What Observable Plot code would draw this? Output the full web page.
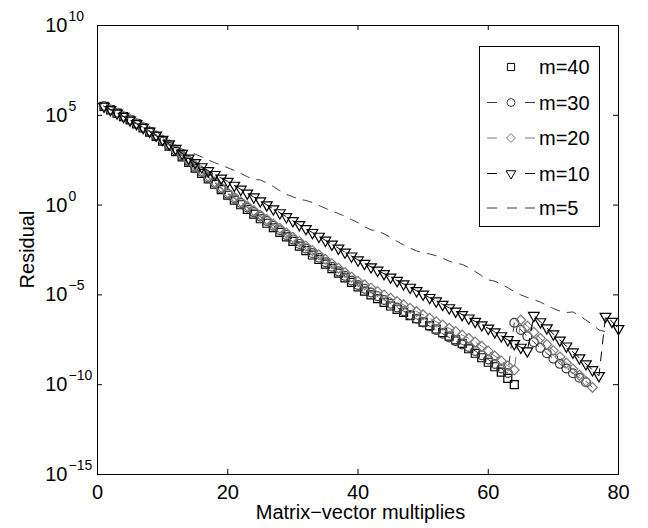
<!DOCTYPE html>
<html><head><meta charset="utf-8">
<script src="https://cdn.jsdelivr.net/npm/d3@7"></script>
<script src="https://cdn.jsdelivr.net/npm/@observablehq/plot@0.6"></script>
<style>body{margin:0;background:#fff}</style>
</head><body><div id="chart"></div>
<script>
// ---- data (log10 of residual, iteration index starts at 1) ----
const xTicks = [0, 20, 40, 60, 80];
const yTicks = [1e-15, 1e-10, 1e-5, 1e0, 1e5, 1e10];
const yTickExponents = ["−15", "−10", "−5", "0", "5", "10"];
const seriesNames = ["m=40", "m=30", "m=20", "m=10", "m=5"];

const m40 = [5.50,5.30,5.12,4.93,4.74,4.52,4.30,4.06,3.82,3.56,3.28,2.98,2.68,2.38,2.06,1.76,1.46,1.16,0.86,0.55,
  0.28,0.02,-0.24,-0.50,-0.76,-1.01,-1.26,-1.52,-1.77,-2.02,-2.28,-2.53,-2.78,-3.03,-3.29,-3.54,-3.79,-4.05,-4.30,-4.55,
  -4.79,-5.00,-5.21,-5.42,-5.62,-5.81,-5.98,-6.15,-6.33,-6.52,-6.71,-6.90,-7.10,-7.30,-7.50,-7.70,-8.00,-8.25,-8.50,-8.75,
  -9.00,-9.30,-9.65,-10.00];
const m30 = [5.50,5.31,5.12,4.94,4.75,4.54,4.32,4.09,3.85,3.60,3.33,3.04,2.75,2.45,2.14,1.84,1.54,1.24,0.93,0.63,
  0.38,0.12,-0.13,-0.39,-0.64,-0.89,-1.15,-1.40,-1.66,-1.91,-2.16,-2.42,-2.67,-2.93,-3.18,-3.43,-3.69,-3.94,-4.20,-4.45,
  -4.66,-4.87,-5.07,-5.28,-5.49,-5.70,-5.91,-6.12,-6.33,-6.53,-6.74,-6.95,-7.16,-7.37,-7.58,-7.76,-7.90,-8.12,-8.36,-8.60,
  -8.85,-9.10,-9.35,-6.55,-6.95,-7.30,-7.63,-7.95,-8.25,-8.55,-8.84,-9.10,-9.36,-9.61,-9.86];
const m20 = [5.50,5.31,5.13,4.95,4.76,4.55,4.34,4.11,3.87,3.62,3.36,3.08,2.79,2.50,2.20,1.90,1.60,1.29,0.98,0.68,
  0.43,0.19,-0.06,-0.31,-0.55,-0.80,-1.05,-1.29,-1.54,-1.79,-2.03,-2.28,-2.53,-2.77,-3.02,-3.27,-3.51,-3.76,-4.01,-4.25,
  -4.44,-4.62,-4.81,-5.00,-5.18,-5.37,-5.55,-5.74,-5.93,-6.11,-6.30,-6.49,-6.67,-6.86,-7.04,-7.23,-7.42,-7.62,-7.86,-8.12,
  -8.40,-8.68,-8.95,-9.18,-6.40,-6.74,-7.08,-7.42,-7.76,-8.10,-8.45,-8.79,-9.13,-9.47,-9.81,-10.15];
const m10 = [5.50,5.31,5.12,4.93,4.73,4.53,4.32,4.11,3.89,3.66,3.41,3.15,2.88,2.61,2.36,2.13,1.91,1.70,1.50,1.32,
  1.10,0.88,0.66,0.45,0.23,0.01,-0.21,-0.43,-0.65,-0.87,-1.09,-1.31,-1.53,-1.74,-1.96,-2.18,-2.40,-2.62,-2.84,-3.06,
  -3.25,-3.44,-3.63,-3.82,-4.01,-4.20,-4.39,-4.58,-4.77,-4.96,-5.15,-5.34,-5.53,-5.72,-5.91,-6.10,-6.29,-6.48,-6.67,-6.86,
  -7.06,-7.28,-7.50,-7.72,-7.92,-8.12,-6.15,-6.50,-6.84,-7.18,-7.52,-7.85,-8.18,-8.51,-8.84,-9.17,-9.50,-6.20,-6.48,-6.88];
const m5 = [5.50,5.31,5.12,4.93,4.74,4.54,4.34,4.13,3.92,3.71,3.50,3.29,3.12,3.00,2.84,2.68,2.52,2.36,2.22,2.08,
  1.93,1.76,1.58,1.44,1.40,1.24,1.04,0.80,0.60,0.46,0.32,0.26,0.14,-0.02,-0.18,-0.33,-0.47,-0.62,-0.80,-0.98,
  -1.20,-1.38,-1.44,-1.60,-1.80,-2.02,-2.22,-2.40,-2.55,-2.66,-2.72,-2.82,-2.96,-3.12,-3.24,-3.30,-3.48,-3.70,-3.94,-4.16,
  -4.24,-4.40,-4.60,-4.82,-5.00,-5.14,-5.26,-5.40,-5.58,-5.76,-5.90,-5.98,-5.95,-6.15,-6.40,-6.65,-6.95,-7.05];

// ---- styles ----
const FONT = "Liberation Sans, Arial, Helvetica, sans-serif";
const DASH = "9,8";
const styles = [
  {values: m40, color: "#000", symbol: "square",   r: 4.5,  rotate: 0,   line: false, marker: true},
  {values: m30, color: "#3a3a3a", symbol: "circle", r: 4.4, rotate: 0,   line: true,  marker: true},
  {values: m20, color: "#7a7a7a", symbol: "diamond2", r: 4.4, rotate: 0, line: true,  marker: true},
  {values: m10, color: "#000", symbol: "triangle2", r: 5.1, rotate: 180, line: true,  marker: true},
  {values: m5,  color: "#3a3a3a", symbol: null, r: 0, rotate: 0, line: true, marker: false}
];

const W = 648, H = 528, ML = 97, MR = 30, MT = 25, MB = 54;
const PW = W - ML - MR, PH = H - MT - MB;

const marks = [];
styles.forEach((s, k) => {
  const rows = s.values.map((v, i) => ({x: i + 1, y: Math.pow(10, v), series: seriesNames[k]}));
  if (s.line) marks.push(Plot.line(rows, {x: "x", y: "y", stroke: s.color, strokeWidth: 1, strokeDasharray: DASH}));
  if (s.marker) marks.push(Plot.dot(rows, {x: "x", y: "y", symbol: s.symbol, r: s.r, rotate: s.rotate, fill: "none", stroke: s.color, strokeWidth: 1.2}));
});

const plot = Plot.plot({
  width: W, height: H,
  marginLeft: ML, marginRight: MR, marginTop: MT, marginBottom: MB,
  style: {fontFamily: FONT, background: "#fff", color: "#000"},
  x: {domain: [0, 80], axis: null},
  y: {type: "log", domain: [1e-15, 1e10], axis: null},
  marks: [
    ...marks,
    Plot.frame({stroke: "#000", strokeWidth: 1}),
    Plot.ruleX(xTicks, {stroke: "#000", insetTop: PH - 5}),
    Plot.ruleX(xTicks, {stroke: "#000", insetBottom: PH - 5}),
    Plot.ruleY(yTicks, {stroke: "#000", insetRight: PW - 5}),
    Plot.ruleY(yTicks, {stroke: "#000", insetLeft: PW - 5}),
    Plot.axisX(xTicks, {anchor: "bottom", tickSize: 0, tickPadding: 10, fontSize: 20, tickFormat: d => String(d), label: null}),
    Plot.text(yTicks, {y: d => d, text: () => "10", frameAnchor: "left", textAnchor: "end", dx: -30, fontSize: 20}),
    Plot.text(yTicks, {y: d => d, text: (d, i) => yTickExponents[i], frameAnchor: "left", textAnchor: "start", dx: -29, dy: -9, fontSize: 14})
  ]
});
document.getElementById("chart").appendChild(plot);

// ---- axis titles and legend ----
const svg = d3.select(plot);
svg.append("text").attr("x", ML + PW / 2 + 3).attr("y", 519).attr("text-anchor", "middle")
  .attr("font-family", FONT).attr("font-size", 20).attr("fill", "#000").text("Matrix−vector multiplies");
svg.append("text").attr("transform", `translate(34,${MT + PH / 2}) rotate(-90)`).attr("text-anchor", "middle")
  .attr("font-family", FONT).attr("font-size", 20).attr("fill", "#000").text("Residual");

const lg = svg.append("g");
lg.append("rect").attr("x", 479.5).attr("y", 46.5).attr("width", 120).attr("height", 180)
  .attr("fill", "#fff").attr("stroke", "#000").attr("stroke-width", 1);
const rowsY = [67, 102.5, 138, 173.5, 208];
const symMap = {square: d3.symbolSquare, circle: d3.symbolCircle, diamond2: d3.symbolDiamond2, triangle2: d3.symbolTriangle2};
styles.forEach((s, k) => {
  const y = rowsY[k];
  if (s.line) {
    const segs = s.marker ? [[487, 497], [525, 535]] : [[487, 497], [507, 517], [525, 535]];
    segs.forEach(([a, b]) => lg.append("line").attr("x1", a).attr("x2", b).attr("y1", y).attr("y2", y)
      .attr("stroke", s.color).attr("stroke-width", 1));
  }
  if (s.marker) {
    const rr = s.r * 0.9;
    lg.append("path").attr("d", d3.symbol(symMap[s.symbol], Math.PI * rr * rr)())
      .attr("transform", `translate(511,${y}) rotate(${s.rotate})`)
      .attr("fill", "none").attr("stroke", s.color).attr("stroke-width", 1);
  }
  lg.append("text").attr("x", 539).attr("y", y + 7).attr("text-anchor", "start")
    .attr("font-family", FONT).attr("font-size", 20).attr("fill", "#000").text(seriesNames[k]);
});
</script>
</body></html>
